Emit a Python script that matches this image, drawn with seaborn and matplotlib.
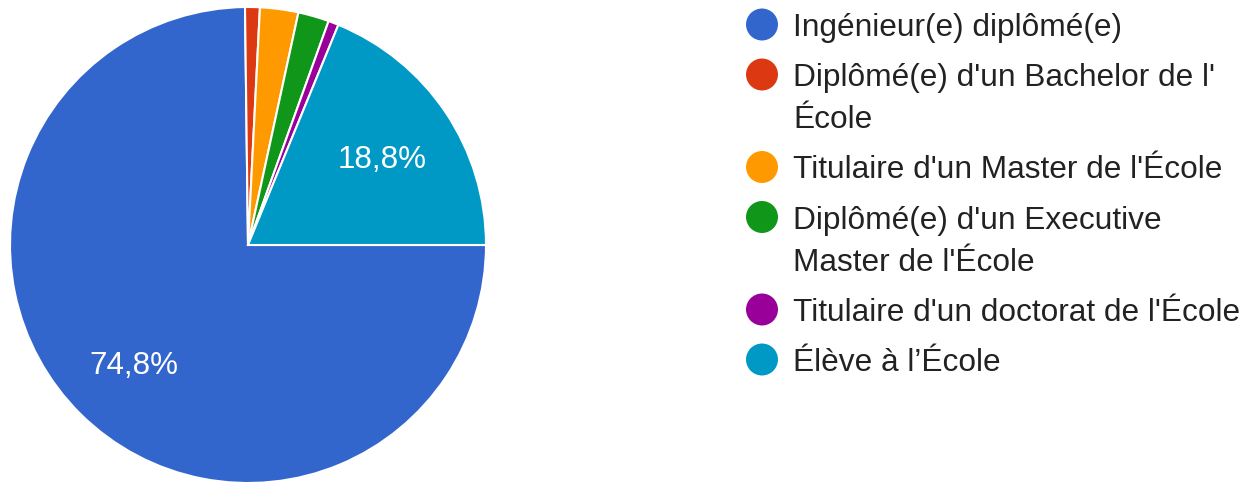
import matplotlib
matplotlib.use("Agg")
import matplotlib.pyplot as plt
import matplotlib.transforms as mtransforms
import seaborn as sns

categories = [
    "Ingénieur(e) diplômé(e)",
    "Diplômé(e) d'un Bachelor de l'\nÉcole",
    "Titulaire d'un Master de l'École",
    "Diplômé(e) d'un Executive\nMaster de l'École",
    "Titulaire d'un doctorat de l'École",
    "Élève à l’École",
]
shares = [74.8, 1.0, 2.6, 2.1, 0.7, 18.8]
colors = ["#3366cc", "#dc3912", "#ff9900", "#109618", "#990099", "#0099c6"]

sns.set_theme(style="white")
plt.rcParams['font.family'] = ['Liberation Sans', 'DejaVu Sans']

W, H = 1248, 484
fig = plt.figure(figsize=(W / 100, H / 100), dpi=100)

# pie axes: centre (248, 245), radius 238 px
cx, cy, r = 248, 245, 238
ax = fig.add_axes([(cx - r) / W, (H - cy - r) / H, 2 * r / W, 2 * r / H])


def fmt_pct(p):
    if p < 5:
        return ""
    return f"{p:.1f}%".replace(".", ",")


wedges, _, autotexts = ax.pie(
    shares, colors=colors, startangle=0, counterclock=False,
    autopct=fmt_pct, pctdistance=0.68,
    wedgeprops=dict(edgecolor="white", linewidth=1.5),
    textprops=dict(color="white", fontsize=22.6),
)
# nudge the percentage labels down a little (visual centring)
shift = mtransforms.ScaledTranslation(0, -0.055, fig.dpi_scale_trans)
for t in autotexts:
    t.set_transform(t.get_transform() + shift)
ax.set_xlim(-1, 1)
ax.set_ylim(-1, 1)
ax.set_aspect("equal")

# legend drawn by hand so the marker sits on the first line
lax = fig.add_axes([0, 0, 1, 1])
lax.set_xlim(0, W)
lax.set_ylim(H, 0)
lax.axis("off")

y = 24.5
for label, col in zip(categories, colors):
    lines = label.split("\n")
    lax.scatter([762], [y], s=530, color=col, edgecolors="none")
    for k, line in enumerate(lines):
        lax.text(793, y + 11.5 + 42.5 * k, line, fontsize=22.8, color="#222222",
                 va="baseline", ha="left")
    y += 42.5 * (len(lines) - 1) + 50

fig.savefig("out.png", dpi=100, facecolor="white")
